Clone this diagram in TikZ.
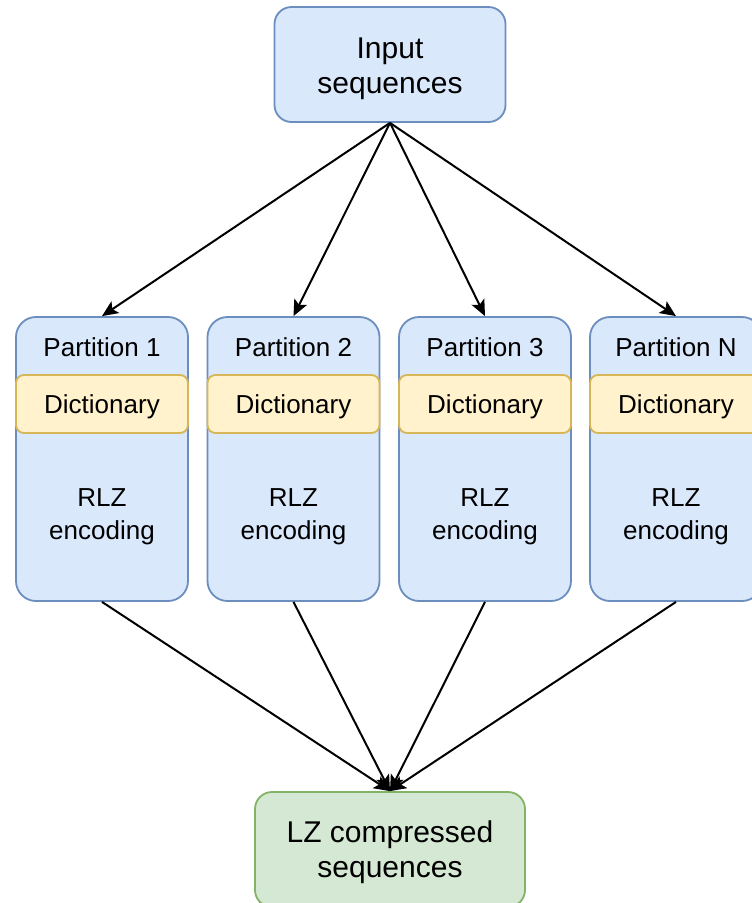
\documentclass[tikz,border=0pt]{standalone}
\usepackage{fontspec}
\setmainfont{Liberation Sans}
\usepackage{xcolor}
\usepackage{tikz}
\usetikzlibrary{shapes,arrows,positioning,calc,arrows.meta}

\definecolor{partfill}{HTML}{DAE8FC}
\definecolor{partline}{HTML}{6C8EBF}
\definecolor{dictfill}{HTML}{FFF2CC}
\definecolor{dictline}{HTML}{D6B656}
\definecolor{outfill}{HTML}{D5E8D4}
\definecolor{outline}{HTML}{82B366}

\begin{document}
\begin{tikzpicture}[x=1pt,y=-1pt,
    bigbox/.style={draw=partline, fill=partfill, line width=1.8pt, rounded corners=17pt,
        minimum width=231pt, minimum height=115pt, inner sep=0pt},
    bigtext/.style={align=center, inner sep=0pt, font=\fontsize{30}{35}\selectfont},
    partbox/.style={draw=partline, fill=partfill, line width=1.8pt, rounded corners=20pt,
        minimum width=172pt, minimum height=284pt, inner sep=0pt},
    dictbox/.style={draw=dictline, fill=dictfill, line width=1.8pt, rounded corners=8pt,
        minimum width=172pt, minimum height=58pt, inner sep=0pt, text depth=0pt,
        font=\fontsize{26}{31}\selectfont},
    parttext/.style={align=center, inner sep=0pt, font=\fontsize{26}{33}\selectfont},
    flow/.style={line width=2pt, -{Stealth[length=16pt, width=14pt, inset=3.5pt]}}]

    \clip (0,0) rectangle (752,903);

    % Input
    \node[bigbox] (input) at (390,64.5) {};
    \node[bigtext] (inputtext) at (390,69) {Input\\sequences};

    % Partition 1
    \node[partbox] (part1) at (102,459) {};
    \node[parttext] (title1) at (102,347) {Partition 1};
    \node[dictbox] (dict1) at (102,404) {Dictionary};
    \node[parttext] (rlz1) at (102,517) {RLZ\\encoding};

    % Partition 2
    \node[partbox] (part2) at (293.5,459) {};
    \node[parttext] (title2) at (293.5,347) {Partition 2};
    \node[dictbox] (dict2) at (293.5,404) {Dictionary};
    \node[parttext] (rlz2) at (293.5,517) {RLZ\\encoding};

    % Partition 3
    \node[partbox] (part3) at (485,459) {};
    \node[parttext] (title3) at (485,347) {Partition 3};
    \node[dictbox] (dict3) at (485,404) {Dictionary};
    \node[parttext] (rlz3) at (485,517) {RLZ\\encoding};

    % Partition N
    \node[partbox] (partN) at (676,459) {};
    \node[parttext] (titleN) at (676,347) {Partition N};
    \node[dictbox] (dictN) at (676,404) {Dictionary};
    \node[parttext] (rlzN) at (676,517) {RLZ\\encoding};

    % Output
    \node[bigbox, draw=outline, fill=outfill, minimum width=270pt] (output) at (390,849.5) {};
    \node[bigtext] (outputtext) at (390,852) {LZ compressed\\sequences};

    % Split
    \draw[flow] (input.south) -- (part1.north);
    \draw[flow] (input.south) -- (part2.north);
    \draw[flow] (input.south) -- (part3.north);
    \draw[flow] (input.south) -- (partN.north);

    % Merge
    \draw[flow] (part1.south) -- (output.north);
    \draw[flow] (part2.south) -- (output.north);
    \draw[flow] (part3.south) -- (output.north);
    \draw[flow] (partN.south) -- (output.north);
\end{tikzpicture}
\end{document}
